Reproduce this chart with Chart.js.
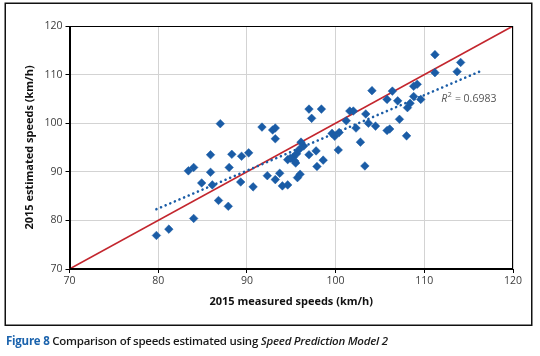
<!DOCTYPE html>
<html>
<head>
<meta charset="utf-8">
<script src="https://cdn.jsdelivr.net/npm/chart.js@4/dist/chart.umd.min.js"></script>
<style>
  html, body { margin: 0; padding: 0; background: #fff; }
  #wrap { position: relative; width: 540px; height: 356px; overflow: hidden; }
  #c { position: absolute; left: 0; top: 0; }
  #caption { position: absolute; left: 6px; top: 333px; font-family: "Open Sans", sans-serif; font-size: 11.5px; font-weight: 600; color: #1a1a1a; white-space: nowrap; letter-spacing: -0.25px; }
  #caption .fig { color: #1b63ad; font-weight: 700; }
  #caption i { font-style: italic; }
</style>
</head>
<body>
<div id="wrap">
  <canvas id="c" width="540" height="356"></canvas>
  <div id="caption"><span class="fig">Figure 8</span> Comparison of speeds estimated using <i>Speed Prediction Model 2</i></div>
</div>
<script>
// 2015 measured speeds (km/h) — x values
const measured = [
  79.8, 81.2, 84.0, 87.9, 86.8, 84.9, 86.1, 89.3, 90.7, 83.4,
  84.0, 85.9, 88.0, 85.9, 88.3, 89.4, 90.2, 87.0, 91.7, 92.9,
  93.2, 93.2, 92.3, 93.2, 93.7, 94.0, 94.6, 95.7, 96.0, 94.6,
  95.2, 95.5, 95.6, 95.9, 96.4, 96.1, 97.0, 97.8, 98.6, 97.9,
  97.0, 98.4, 97.3, 99.6, 99.9, 100.4, 100.3, 102.8, 103.3, 101.6,
  102.0, 103.4, 101.2, 103.7, 104.5, 102.3, 105.8, 106.1, 108.0, 107.2,
  104.1, 106.4, 108.8, 109.2, 105.8, 107.0, 108.8, 109.6, 108.4, 108.1,
  111.2, 114.1, 111.2, 113.7, 95.4, 94.9
];
// 2015 estimated speeds (km/h) — y values
const estimated = [
  76.9, 78.2, 80.4, 82.9, 84.1, 87.7, 87.3, 87.9, 86.9, 90.2,
  90.9, 89.9, 90.9, 93.5, 93.6, 93.2, 93.9, 99.9, 99.2, 98.6,
  99.0, 96.8, 89.2, 88.4, 89.7, 87.1, 87.3, 88.8, 89.5, 92.5,
  93.0, 91.8, 93.7, 94.6, 95.3, 96.1, 93.5, 94.3, 92.4, 91.1,
  102.9, 102.9, 101.0, 97.9, 97.3, 98.1, 94.5, 96.1, 91.2, 102.5,
  102.5, 101.9, 100.5, 100.0, 99.4, 99.0, 98.5, 98.8, 97.4, 100.8,
  106.7, 106.6, 107.6, 108.0, 104.9, 104.6, 105.5, 104.9, 104.1, 103.2,
  114.1, 112.5, 110.4, 110.6, 92.2, 92.8
];
// Linear trendline end points
const trendMeasured = [79.8, 116.2];
const trendEstimated = [82.3, 110.6];
// Line of equality
const equalityLine = [70, 120];
// Axis ticks
const axisTicks = [70, 80, 90, 100, 110, 120];
const rSquaredText = '0.6983';

const BLUE = '#1a5ca6';
const RED = '#c3262e';
const FONT = '"Open Sans", sans-serif';

const scatterPts = measured.map((m, i) => ({ x: m, y: estimated[i] }));
const trendPts = trendMeasured.map((m, i) => ({ x: m, y: trendEstimated[i] }));
const eqPts = equalityLine.map(v => ({ x: v, y: v }));

const framePlugin = {
  id: 'frame',
  beforeDraw(chart) {
    const ctx = chart.ctx;
    ctx.save();
    ctx.fillStyle = '#fff';
    ctx.fillRect(0, 0, chart.width, chart.height);
    ctx.strokeStyle = '#111';
    ctx.lineWidth = 1.5;
    ctx.strokeRect(5.25, 3.25, 526.5, 322);
    ctx.restore();
  },
  afterDatasetsDraw(chart) {
    const { ctx, chartArea: a, scales } = chart;
    ctx.save();
    ctx.strokeStyle = '#000';
    ctx.lineWidth = 1;
    const l = Math.round(a.left) + 0.5, t = Math.round(a.top) + 0.5;
    const r = Math.round(a.right) - 0.5, b = Math.round(a.bottom) - 0.5;
    ctx.strokeRect(l, t, r - l, b - t);
    // R² label
    const x0 = scales.x.getPixelForValue(111.9);
    const y0 = scales.y.getPixelForValue(105.0);
    ctx.fillStyle = '#555';
    ctx.textBaseline = 'middle';
    ctx.textAlign = 'left';
    ctx.font = 'italic 10.5px ' + FONT;
    ctx.fillText('R', x0, y0);
    let x = x0 + ctx.measureText('R').width + 0.5;
    ctx.font = '7px ' + FONT;
    ctx.fillText('2', x, y0 - 4);
    x += ctx.measureText('2').width + 0.5;
    ctx.font = '10.5px ' + FONT;
    ctx.fillText(' = ' + rSquaredText, x, y0);
    ctx.restore();
  }
};

new Chart(document.getElementById('c'), {
  type: 'scatter',
  data: {
    datasets: [
      {
        label: 'Estimated vs measured',
        data: scatterPts,
        pointStyle: 'rectRot',
        pointRadius: 4.3,
        pointBackgroundColor: BLUE,
        pointBorderColor: BLUE,
        pointBorderWidth: 0.5,
        showLine: false
      },
      {
        label: 'Trend',
        type: 'line',
        data: trendPts,
        borderColor: BLUE,
        borderWidth: 2.6,
        borderCapStyle: 'round',
        borderDash: [0.01, 5],
        pointRadius: 0,
        fill: false
      },
      {
        label: 'Equality',
        type: 'line',
        data: eqPts,
        borderColor: RED,
        borderWidth: 1.6,
        pointRadius: 0,
        fill: false
      }
    ]
  },
  options: {
    responsive: false,
    animation: false,
    devicePixelRatio: 1,
    layout: { padding: { left: 5, top: 26, right: 27, bottom: 47 } },
    plugins: { legend: { display: false }, tooltip: { enabled: false } },
    scales: {
      x: {
        type: 'linear',
        min: 70, max: 120,
        afterBuildTicks(s) { s.ticks = axisTicks.map(v => ({ value: v })); },
        afterFit(s) { s.height = 40; },
        grid: { color: '#d3d3d3', lineWidth: 1, tickLength: 4, tickColor: '#000', drawTicks: true },
        border: { color: '#000', width: 1 },
        ticks: { color: '#3c3c3c', font: { family: FONT, size: 10.5 }, padding: 2, maxRotation: 0 },
        title: { display: true, text: '2015 measured speeds (km/h)', color: '#111',
                 font: { family: FONT, size: 11, weight: 'bold' }, padding: { top: 0, bottom: 0.5 } }
      },
      y: {
        type: 'linear',
        min: 70, max: 120,
        afterBuildTicks(s) { s.ticks = axisTicks.map(v => ({ value: v })); },
        afterFit(s) { s.width = 64.5; },
        grid: { color: '#d3d3d3', lineWidth: 1, tickLength: 4, tickColor: '#000', drawTicks: true },
        border: { color: '#000', width: 1 },
        ticks: { color: '#3c3c3c', font: { family: FONT, size: 10.5 }, padding: 3 },
        title: { display: true, text: '2015 estimated speeds (km/h)', color: '#111',
                 font: { family: FONT, size: 11, weight: 'bold' }, padding: { top: 18, bottom: 0 } }
      }
    }
  },
  plugins: [framePlugin]
});
</script>
</body>
</html>
